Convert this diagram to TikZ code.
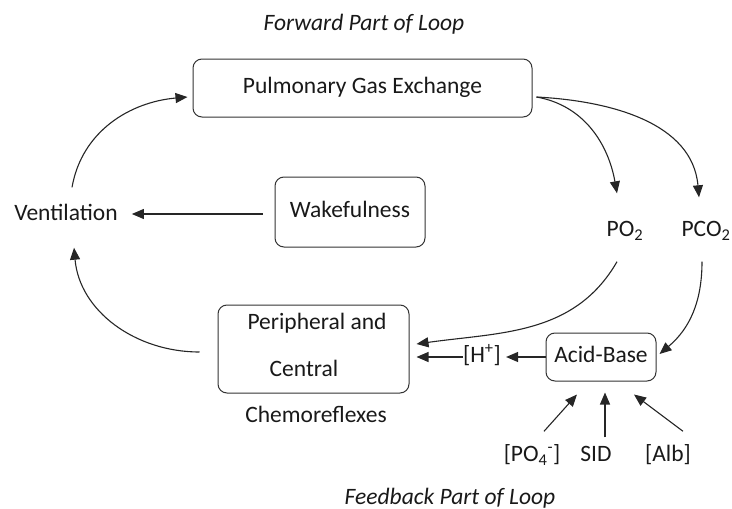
\documentclass[tikz,border=0pt]{standalone}
\usepackage{fontspec}
\setmainfont{Carlito}
\usetikzlibrary{arrows.meta}

\begin{document}
\begin{tikzpicture}[x=1pt,y=1pt]
	\tikzstyle{etiq}=[inner sep=0pt,text height=15pt,text depth=4pt,text=black!90,font=\fontsize{23.5}{28}\selectfont]
	\tikzstyle{titre}=[etiq,font=\fontsize{23.5}{28}\selectfont\itshape]
	\tikzstyle{bloc}=[etiq,draw=black!80,line width=1pt,rounded corners=9pt]
	\tikzstyle{fleche}=[-{Triangle[length=12pt,width=10pt]},draw=black!85,line width=1.1pt]
	\useasboundingbox (0,0) rectangle (732,-509);
	% titres
	\node[titre] (avant) at (364,-25){Forward Part of Loop};
	\node[titre] (retour) at (450,-499){Feedback Part of Loop};
	% boites
	\node[bloc,minimum width=339pt,minimum height=58pt] (echange) at (362.5,-88){Pulmonary Gas Exchange};
	\node[bloc,minimum width=150pt,minimum height=70pt] (eveil) at (350,-212){Wakefulness};
	\node[bloc,minimum width=191pt,minimum height=88pt] (chemo) at (313.5,-349){};
	\node[bloc,minimum width=110pt,minimum height=48pt] (acide) at (601,-357){Acid-Base};
	% textes
	\node[etiq] (vent) at (66,-215){Ventilation};
	\node[etiq] (chemoA) at (317,-324){Peripheral and};
	\node[etiq] (chemoB) at (304,-371){Central};
	\node[etiq] (chemoC) at (316,-417){Chemoreflexes};
	\node[etiq] (po2) at (625,-231){PO\textsubscript{2}};
	\node[etiq] (pco2) at (706,-231){PCO\textsubscript{2}};
	\node[etiq] (hplus) at (482,-357){[H\textsuperscript{+}]};
	\node[etiq] (po4) at (532,-456){[PO\textsubscript{4}\textsuperscript{-}]};
	\node[etiq] (sid) at (596,-456){SID};
	\node[etiq] (alb) at (668,-456){[Alb]};
	% boucle avant
	\draw[fleche] ([xshift=6pt,yshift=18pt]vent.north) to[out=80,in=185] ([xshift=-5pt,yshift=-9pt]echange.west);
	\draw[fleche] ([xshift=-12pt,yshift=-2pt]eveil.west) -- ([xshift=14pt,yshift=-2pt]vent.east |- eveil.west);
	\draw[fleche] ([xshift=4pt,yshift=-9pt]echange.east) to[out=-10,in=100] ([xshift=-8pt,yshift=28pt]po2.north);
	\draw[fleche] ([xshift=4pt,yshift=-9pt]echange.east) to[out=-3,in=95] ([xshift=-7pt,yshift=24pt]pco2.north);
	% boucle retour
	\draw[fleche] ([xshift=-18pt,yshift=-3pt]chemo.west) to[out=180,in=-85] ([xshift=8pt,yshift=-23pt]vent.south);
	\draw[fleche] ([xshift=-8pt,yshift=-21pt]po2.south) to[out=-120,in=8] ([xshift=7pt,yshift=5pt]chemo.east);
	\draw[fleche] ([xshift=-4pt,yshift=-21pt]pco2.south) to[out=-90,in=40] ([xshift=3pt,yshift=3pt]acide.east);
	\draw[fleche] (acide.west) -- ([xshift=5pt]hplus.east);
	\draw[fleche] (hplus.west) -- ([xshift=7pt]hplus.west -| chemo.east);
	\draw[fleche] ([xshift=12pt,yshift=15pt]po4.north) -- ([xshift=-24pt,yshift=-13pt]acide.south);
	\draw[fleche] ([xshift=9pt,yshift=9pt]sid.north) -- ([xshift=4pt,yshift=-11pt]acide.south);
	\draw[fleche] ([xshift=15pt,yshift=15pt]alb.north) -- ([xshift=33pt,yshift=-13pt]acide.south);
\end{tikzpicture}
\end{document}
